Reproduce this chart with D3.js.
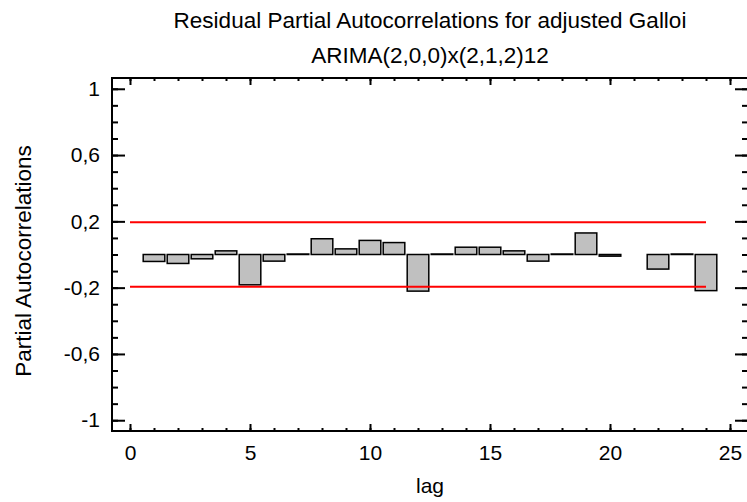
<!DOCTYPE html>
<html>
<head>
<meta charset="utf-8">
<script src="https://cdn.jsdelivr.net/npm/d3@7"></script>
<style>
  html, body { margin: 0; padding: 0; background: #fff; }
  svg { display: block; font-family: "Liberation Sans", Arial, sans-serif; }
</style>
</head>
<body>
<svg id="chart" width="747" height="502"></svg>
<script>
// ---- data ----
const titleLines = ["Residual Partial Autocorrelations for adjusted Galloi", "ARIMA(2,0,0)x(2,1,2)12"];
const xLabel = "lag";
const yLabel = "Partial Autocorrelations";
const lags = [1,2,3,4,5,6,7,8,9,10,11,12,13,14,15,16,17,18,19,20,21,22,23,24];
const pacf = [-0.042,-0.054,-0.026,0.022,-0.183,-0.040,0.003,0.095,0.034,0.085,0.072,-0.221,
              0.003,0.044,0.044,0.022,-0.040,0.003,0.130,-0.010,0,-0.088,0.003,-0.218];
const limitValues = [0.195, -0.195];
const limitRange = [0, 24];
const xTicks = [0,5,10,15,20,25];
const xTickLabels = ["0","5","10","15","20","25"];
const yTicks = [1,0.6,0.2,-0.2,-0.6,-1];
const yTickLabels = ["1","0,6","0,2","-0,2","-0,6","-1"];

// ---- layout ----
const svg = d3.select("#chart");
const pL = 112, pR = 748, pT = 78, pB = 431;

const x = d3.scaleLinear().domain([-0.75, 25.75]).range([pL, pR]);
const y = d3.scaleLinear().domain([-1.065, 1.065]).range([pB, pT]);

// bars
const barW = 0.9;
svg.append("g").selectAll("rect").data(lags.map((l,i)=>({lag:l, v:pacf[i]})))
  .enter().append("rect")
  .attr("x", d => x(d.lag - barW/2))
  .attr("width", d => x(d.lag + barW/2) - x(d.lag - barW/2))
  .attr("y", d => y(Math.max(0, d.v)))
  .attr("height", d => Math.abs(y(d.v) - y(0)))
  .attr("fill", "#c0c0c0")
  .attr("stroke", "#000")
  .attr("stroke-width", 1.5);

// limit lines
svg.append("g").selectAll("line").data(limitValues).enter().append("line")
  .attr("x1", x(limitRange[0])).attr("x2", x(limitRange[1]))
  .attr("y1", d => y(d)).attr("y2", d => y(d))
  .attr("stroke", "#ff0000").attr("stroke-width", 2);

// axes with inward ticks
const xMinor = d3.range(0, 26);
const yMinor = d3.range(-10, 11).map(v => v/10);

const axB = svg.append("g").attr("transform", `translate(0,${pB})`)
  .call(d3.axisBottom(x).tickValues(xTicks).tickSize(-7).tickFormat((d,i)=>xTickLabels[i]).tickPadding(14));
const axT = svg.append("g").attr("transform", `translate(0,${pT})`)
  .call(d3.axisTop(x).tickValues(xTicks).tickSize(-7).tickFormat(""));
const axBm = svg.append("g").attr("transform", `translate(0,${pB})`)
  .call(d3.axisBottom(x).tickValues(xMinor).tickSize(-3).tickFormat(""));
const axTm = svg.append("g").attr("transform", `translate(0,${pT})`)
  .call(d3.axisTop(x).tickValues(xMinor).tickSize(-3).tickFormat(""));
const axL = svg.append("g").attr("transform", `translate(${pL},0)`)
  .call(d3.axisLeft(y).tickValues(yTicks).tickSize(-13).tickFormat((d,i)=>yTickLabels[i]).tickPadding(12));
const axR = svg.append("g").attr("transform", `translate(${pR},0)`)
  .call(d3.axisRight(y).tickValues(yTicks).tickSize(-13).tickFormat(""));
const axLm = svg.append("g").attr("transform", `translate(${pL},0)`)
  .call(d3.axisLeft(y).tickValues(yMinor).tickSize(-6).tickFormat(""));
const axRm = svg.append("g").attr("transform", `translate(${pR},0)`)
  .call(d3.axisRight(y).tickValues(yMinor).tickSize(-6).tickFormat(""));

[axB, axT, axBm, axTm, axL, axR, axLm, axRm].forEach(g => {
  g.selectAll(".domain").remove();
  g.selectAll(".tick line").attr("stroke", "#000").attr("stroke-width", 2);
  g.selectAll("text").attr("fill", "#000").style("font-size", "21px")
    .style("font-family", "'Liberation Sans', Arial, sans-serif");
});
axB.selectAll("text").attr("dy", "0.71em");

// frame
svg.append("rect").attr("x", pL).attr("y", pT)
  .attr("width", pR - pL).attr("height", pB - pT)
  .attr("fill", "none").attr("stroke", "#000").attr("stroke-width", 2);

// titles
svg.append("text").attr("x", 430).attr("y", 28).attr("text-anchor", "middle")
  .style("font-size", "22.5px").text(titleLines[0]);
svg.append("text").attr("x", 430).attr("y", 63).attr("text-anchor", "middle")
  .style("font-size", "22.5px").text(titleLines[1]);

svg.append("text").attr("x", 430).attr("y", 493).attr("text-anchor", "middle")
  .style("font-size", "21px").text(xLabel);
svg.append("text").attr("transform", "translate(31,261) rotate(-90)")
  .attr("text-anchor", "middle").style("font-size", "22.5px").text(yLabel);
</script>
</body>
</html>
